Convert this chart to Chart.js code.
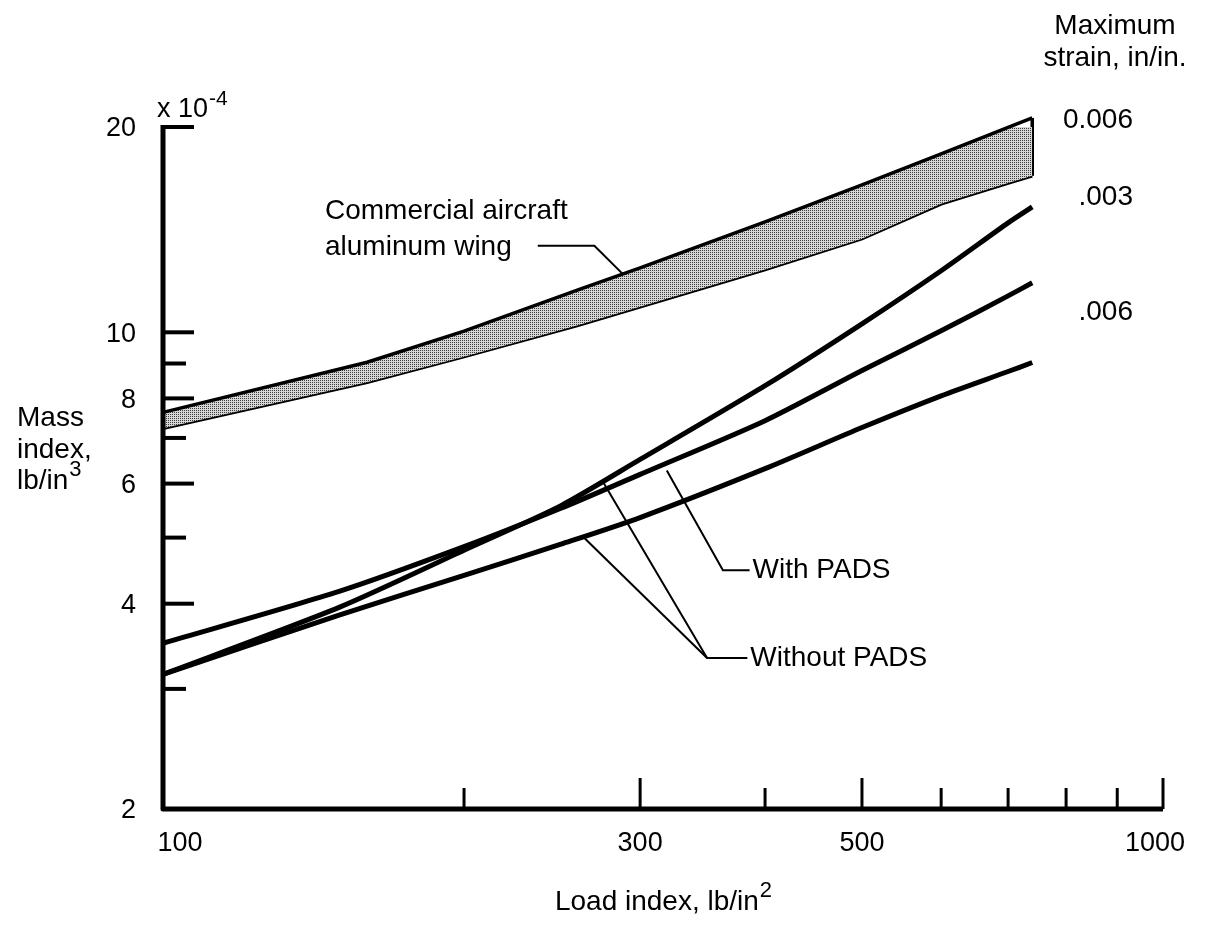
<!DOCTYPE html>
<html>
<head>
<meta charset="utf-8">
<script src="https://cdn.jsdelivr.net/npm/chart.js@4.4.1/dist/chart.umd.min.js"></script>
<style>
html, body { margin: 0; padding: 0; background: #fff; }
#wrap { width: 1205px; height: 940px; }
</style>
</head>
<body>
<div id="wrap"><canvas id="chart" width="1205" height="940"></canvas></div>
<script>
// load index, lb/in^2
const loads = [100, 150, 200, 250, 300, 400, 500, 600, 700, 740];
// mass index (x 10^-4 lb/in^3) for the three composite curves
const massSteep = [3.15, 3.95, 4.79, 5.57, 6.51, 8.35, 10.29, 12.31, 14.47, 15.27];
const massMiddle = [3.50, 4.17, 4.85, 5.52, 6.19, 7.42, 8.79, 10.05, 11.31, 11.82];
const massLow = [3.15, 3.85, 4.40, 4.89, 5.35, 6.31, 7.25, 8.07, 8.76, 9.03];

// commercial aircraft aluminum wing band
const wingLoads = [100, 160, 200, 260, 300, 400, 500, 600, 700, 740];
const wingUpper = [7.63, 9.04, 10.04, 11.54, 12.43, 14.52, 16.45, 18.26, 19.97, 20.62];
const wingLower = [7.23, 8.45, 9.21, 10.24, 10.90, 12.36, 13.72, 15.43, 16.55, 16.96];

// axis ticks
const yTicks = [3, 4, 5, 6, 7, 8, 9, 10, 20];
const yLabels = [2, 4, 6, 8, 10, 20];
const xTicks = [200, 300, 400, 500, 600, 700, 800, 900, 1000];
const xLongTicks = [300, 500, 1000];
const xLabels = [100, 300, 500, 1000];

// callout leaders, in data units
const wingLeader = [[237, 13.39], [270, 13.39], [288, 12.19]];
const withLeader = [[386, 4.48], [363, 4.48], [319, 6.27]];
const withoutLeader = [[384, 3.33], [350, 3.33], [275, 6.06]];
const withoutLeader2 = [[350, 3.33], [264, 4.99]];

const FONT = "'Liberation Sans', Arial, Helvetica, sans-serif";

function pts(xs, ys) {
  return xs.map((x, i) => ({ x: x, y: ys[i] }));
}

// fine dot screen like the printed band
function stipple() {
  const c = document.createElement('canvas');
  c.width = 2; c.height = 2;
  const g = c.getContext('2d');
  g.fillStyle = '#d6d6d6';
  g.fillRect(0, 0, 2, 2);
  g.fillStyle = '#3c3c3c';
  g.fillRect(0, 0, 1, 1);
  return g.createPattern(c, 'repeat');
}

function textSup(ctx, txt, sup, x, y, size, supSize, align) {
  ctx.font = size + 'px ' + FONT;
  const w = ctx.measureText(txt).width;
  ctx.font = supSize + 'px ' + FONT;
  const ws = ctx.measureText(sup).width;
  let left = x;
  if (align === 'center') left = x - (w + ws) / 2;
  ctx.textAlign = 'left';
  ctx.textBaseline = 'alphabetic';
  ctx.font = size + 'px ' + FONT;
  ctx.fillText(txt, left, y);
  ctx.font = supSize + 'px ' + FONT;
  ctx.fillText(sup, left + w + 1, y - size * 0.45);
}

const decor = {
  id: 'decor',
  afterDraw(chart) {
    const ctx = chart.ctx;
    const xs = chart.scales.x;
    const ys = chart.scales.y;
    const a = chart.chartArea;
    const px = v => xs.getPixelForValue(v);
    const py = v => ys.getPixelForValue(v);
    ctx.save();
    ctx.strokeStyle = '#000';
    ctx.fillStyle = '#000';

    // axes
    ctx.lineWidth = 5;
    ctx.lineJoin = 'round';
    ctx.lineCap = 'butt';
    ctx.beginPath();
    ctx.moveTo(a.left, py(20) - 2);
    ctx.lineTo(a.left, a.bottom);
    ctx.lineTo(a.right, a.bottom);
    ctx.stroke();

    // y ticks point inward
    ctx.lineWidth = 4;
    yTicks.forEach(v => {
      const len = yLabels.includes(v) ? 31 : 23;
      ctx.beginPath();
      ctx.moveTo(a.left, py(v));
      ctx.lineTo(a.left + len, py(v));
      ctx.stroke();
    });
    // x ticks point up
    ctx.lineWidth = 3;
    xTicks.forEach(v => {
      const len = xLongTicks.includes(v) ? 31 : 21;
      ctx.beginPath();
      ctx.moveTo(px(v), a.bottom);
      ctx.lineTo(px(v), a.bottom - len);
      ctx.stroke();
    });

    // tick labels
    ctx.font = '27px ' + FONT;
    ctx.textAlign = 'right';
    ctx.textBaseline = 'middle';
    yLabels.forEach(v => ctx.fillText(String(v), a.left - 27, py(v) + 2));
    ctx.textAlign = 'center';
    xLabels.forEach(v => {
      const off = v === 100 ? 17 : (v === 1000 ? -8 : 0);
      ctx.fillText(String(v), px(v) + off, a.bottom + 35);
    });

    // x 10^-4
    textSup(ctx, 'x 10', '-4', a.left - 6, a.top - 10, 27, 21, 'left');

    // leaders
    ctx.lineWidth = 2;
    ctx.lineJoin = 'miter';
    [wingLeader, withLeader, withoutLeader, withoutLeader2].forEach(l => {
      ctx.beginPath();
      l.forEach((p, i) => {
        if (i === 0) ctx.moveTo(px(p[0]), py(p[1]));
        else ctx.lineTo(px(p[0]), py(p[1]));
      });
      ctx.stroke();
    });

    ctx.font = '28px ' + FONT;
    ctx.textBaseline = 'middle';
    ctx.textAlign = 'left';
    ctx.fillText('Commercial aircraft', 325, 211);
    ctx.fillText('aluminum wing', 325, 247);
    ctx.fillText('With PADS', px(withLeader[0][0]) + 3, py(withLeader[0][1]));
    ctx.fillText('Without PADS', px(withoutLeader[0][0]) + 3, py(withoutLeader[0][1]));

    ctx.textAlign = 'right';
    ctx.fillText('0.006', 1133, 120);
    ctx.fillText('.003', 1133, 197);
    ctx.fillText('.006', 1133, 312);

    ctx.textAlign = 'center';
    ctx.fillText('Maximum', 1115, 26);
    ctx.fillText('strain, in/in.', 1115, 58);

    // y title
    ctx.textAlign = 'left';
    ctx.fillText('Mass', 17, 418);
    ctx.fillText('index,', 17, 450);
    textSup(ctx, 'lb/in', '3', 17, 489, 28, 22, 'left');

    // x title
    textSup(ctx, 'Load index, lb/in', '2', 663, 910, 28, 22, 'center');
    ctx.restore();
  }
};

const line = (data, w) => ({
  data: data,
  borderColor: '#000',
  borderWidth: w,
  pointRadius: 0,
  fill: false,
  tension: 0.25,
  clip: false
});

const ctx = document.getElementById('chart').getContext('2d');
new Chart(ctx, {
  type: 'line',
  data: {
    datasets: [
      Object.assign(line(pts(wingLoads, wingUpper), 3.5), { fill: '+1', backgroundColor: stipple(), tension: 0 }),
      Object.assign(line(pts(wingLoads, wingLower), 3.5), { tension: 0 }),
      line([{ x: 740, y: wingUpper[wingUpper.length - 1] }, { x: 740, y: wingLower[wingLower.length - 1] }], 3.5),
      line(pts(loads, massSteep), 5),
      line(pts(loads, massMiddle), 5),
      line(pts(loads, massLow), 5)
    ]
  },
  options: {
    responsive: false,
    animation: false,
    layout: { padding: { left: 163, top: 127, right: 42, bottom: 131 } },
    plugins: { legend: { display: false }, tooltip: { enabled: false } },
    scales: {
      x: { type: 'logarithmic', min: 100, max: 1000, display: false },
      y: { type: 'logarithmic', min: 2, max: 20, display: false }
    }
  },
  plugins: [decor]
});
</script>
</body>
</html>
